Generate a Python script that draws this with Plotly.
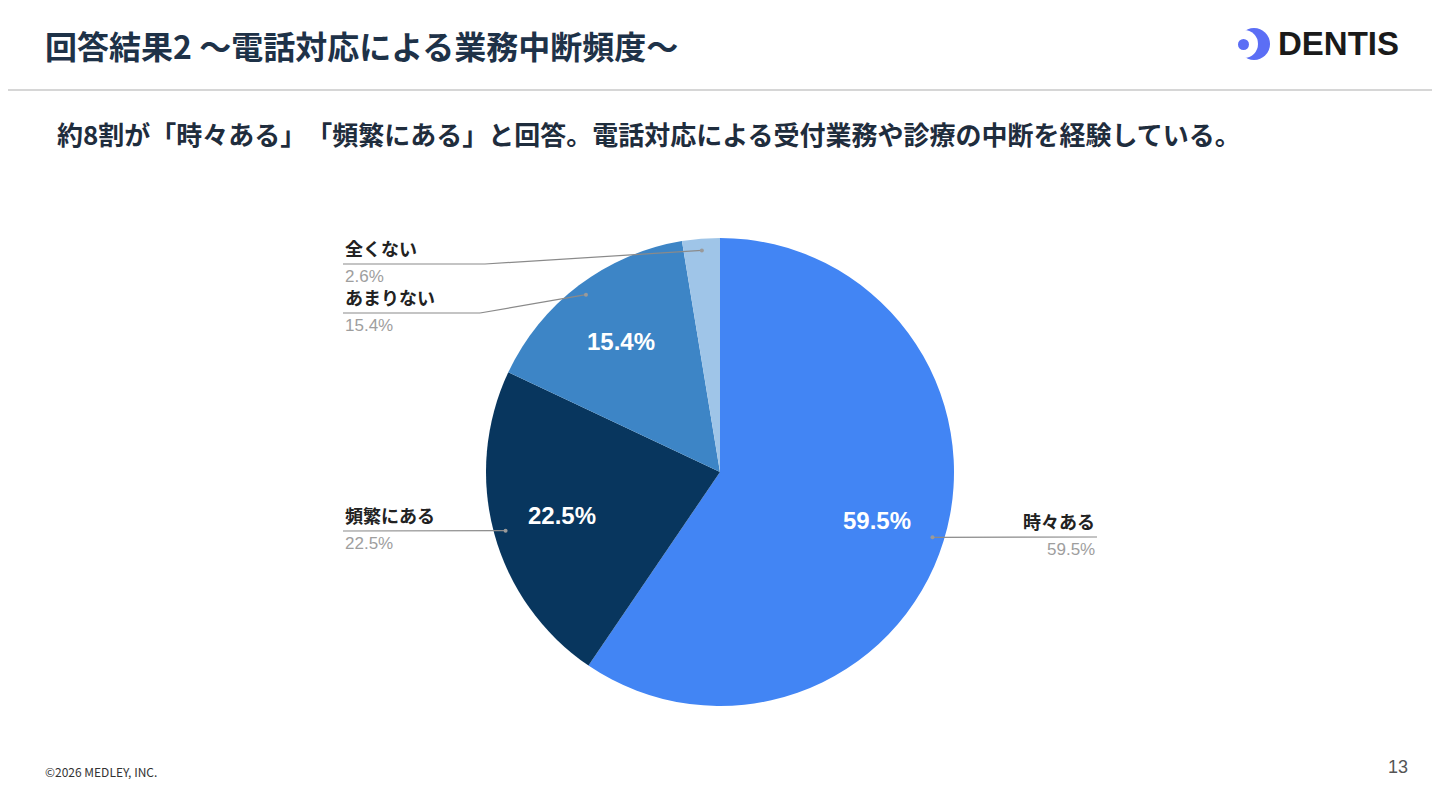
import math
import plotly.graph_objects as go

# data
labels = ["時々ある", "頻繁にある", "あまりない", "全くない"]
values = [59.5, 22.5, 15.4, 2.6]
colors = ["#4285F4", "#08365E", "#3D85C6", "#9FC5E8"]
show_inside = [True, True, True, False]

title = "回答結果2 〜電話対応による業務中断頻度〜"
subtitle = "約8割が「時々ある」　「頻繁にある」と回答。電話対応による受付業務や診療の中断を経験している。"

W, H = 1440, 810
OFF = 8  # page body margin
cx, cy, R = 720, 472, 234

def px(x):
    return (x - OFF) / W

def py(y):
    return 1 - (y - OFF) / H

fig = go.Figure()

fig.add_trace(go.Pie(
    labels=labels, values=values,
    sort=False, direction="clockwise", rotation=0,
    marker=dict(colors=colors, line=dict(width=0)),
    textinfo="none", hoverinfo="label+percent",
    domain=dict(x=[px(cx - R), px(cx + R)], y=[py(cy + R), py(cy - R)]),
    showlegend=False,
))

# label layout: (side, label y, elbow x) for each slice
label_pos = [("right", 537, None), ("left", 531, None), ("left", 313, 480), ("left", 264, 485)]
x_left, x_right = 343, 1097

shapes = []
annotations = []
total = sum(values)
cum = 0
for name, v, inside, (side, ly, elbow) in zip(labels, values, show_inside, label_pos):
    mid = (cum + v / 2) / total * 2 * math.pi
    cum += v
    s, c = math.sin(mid), math.cos(mid)
    # inside percentage
    if inside:
        annotations.append(dict(
            x=px(cx + 0.70 * R * s), y=py(cy - 0.70 * R * c),
            xref="paper", yref="paper", showarrow=False,
            text=f"<b>{v}%</b>",
            font=dict(family="Liberation Sans, Arial", size=24, color="white"),
        ))
    # leader line
    dx, dy = cx + 0.95 * R * s, cy - 0.95 * R * c
    end_x = x_right if side == "right" else x_left
    pts = [(dx, dy)]
    if elbow is not None:
        pts.append((elbow, ly))
    pts.append((end_x, ly))
    for (x0, y0), (x1, y1) in zip(pts[:-1], pts[1:]):
        shapes.append(dict(type="line", xref="paper", yref="paper",
                           x0=px(x0), y0=py(y0), x1=px(x1), y1=py(y1),
                           line=dict(color="#8a8a8a", width=1.2)))
    shapes.append(dict(type="circle", xref="paper", yref="paper",
                       x0=px(dx - 2), x1=px(dx + 2), y0=py(dy + 2), y1=py(dy - 2),
                       fillcolor="#9a9a9a", line=dict(width=0)))
    anchor = "right" if side == "right" else "left"
    annotations.append(dict(
        x=px(end_x), y=py(ly - 1), xref="paper", yref="paper", showarrow=False,
        xanchor=anchor, yanchor="bottom", text=f"<b>{name}</b>",
        font=dict(family="Noto Sans CJK JP", size=18, color="#222222"),
    ))
    annotations.append(dict(
        x=px(end_x), y=py(ly + 1), xref="paper", yref="paper", showarrow=False,
        xanchor=anchor, yanchor="top", text=f"{v}%",
        font=dict(family="Liberation Sans, Arial", size=17, color="#9e9e9e"),
    ))

# header
annotations.append(dict(x=px(43), y=py(45), xref="paper", yref="paper", showarrow=False,
                        xanchor="left", yanchor="middle", text=f"<b>{title}</b>",
                        font=dict(family="Noto Sans CJK JP", size=32, color="#1E3248")))
annotations.append(dict(x=px(55), y=py(133), xref="paper", yref="paper", showarrow=False,
                        xanchor="left", yanchor="middle", text=f"<b>{subtitle}</b>",
                        font=dict(family="Noto Sans CJK JP", size=26, color="#1F2D3D")))
shapes.append(dict(type="line", xref="paper", yref="paper", x0=px(0), x1=1, y0=py(90), y1=py(90),
                   line=dict(color="#d6d6d6", width=2)))

# logo
shapes.append(dict(type="circle", xref="paper", yref="paper",
                   x0=px(1238), x1=px(1270), y0=py(60), y1=py(28),
                   fillcolor="#5B6EF5", line=dict(width=0)))
shapes.append(dict(type="circle", xref="paper", yref="paper",
                   x0=px(1230), x1=px(1258), y0=py(58), y1=py(30),
                   fillcolor="white", line=dict(width=0)))
shapes.append(dict(type="circle", xref="paper", yref="paper",
                   x0=px(1238), x1=px(1249), y0=py(50), y1=py(39),
                   fillcolor="#5B6EF5", line=dict(width=0)))
annotations.append(dict(x=px(1276), y=py(44), xref="paper", yref="paper", showarrow=False,
                        xanchor="left", yanchor="middle", text="<b>DENTIS</b>",
                        font=dict(family="Liberation Sans, Arial", size=33, color="#1a1a1a")))

# footer
annotations.append(dict(x=px(43), y=py(771), xref="paper", yref="paper", showarrow=False,
                        xanchor="left", yanchor="middle", text="©2026 MEDLEY, INC.",
                        font=dict(family="Noto Sans CJK JP", size=12, color="#333333")))
annotations.append(dict(x=px(1410), y=py(767), xref="paper", yref="paper", showarrow=False,
                        xanchor="right", yanchor="middle", text="13",
                        font=dict(family="Liberation Sans, Arial", size=18, color="#555555")))

fig.update_layout(
    width=W, height=H,
    margin=dict(l=0, r=0, t=0, b=0),
    paper_bgcolor="white", plot_bgcolor="white",
    shapes=shapes, annotations=annotations,
)

fig.write_html("out.html")
